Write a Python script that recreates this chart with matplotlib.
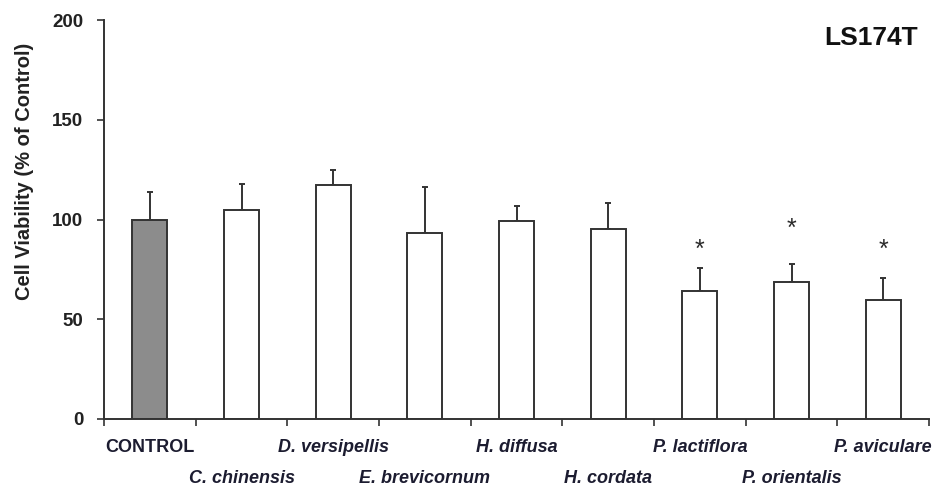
import numpy as np
import matplotlib
matplotlib.use("Agg")
import matplotlib.pyplot as plt

plt.rcParams['font.family'] = ['Liberation Sans', 'DejaVu Sans']

# data
names = ['CONTROL', 'C. chinensis', 'D. versipellis', 'E. brevicornum', 'H. diffusa',
         'H. cordata', 'P. lactiflora', 'P. orientalis', 'P. aviculare']
viability = [100, 104.7, 117.2, 93.3, 99.0, 95.0, 64.3, 68.6, 59.8]
sd = [14.0, 13.0, 7.6, 23.0, 7.8, 13.3, 11.3, 9.2, 11.0]
star_at = {6: 85, 7: 95.5, 8: 85}

edge = '#333333'
label_col = '#1c1c30'

fig = plt.figure(figsize=(9.51, 4.88), dpi=100)
ax = fig.add_axes([0.1094, 0.1414, 0.8675, 0.8176])

x = np.arange(len(names))
colors = ['#8c8c8c'] + ['white'] * (len(names) - 1)
ax.bar(x, viability, width=0.38, color=colors, edgecolor=edge, linewidth=1.4, zorder=2)
ax.errorbar(x, viability, yerr=[np.zeros(len(sd)), sd], fmt='none', ecolor=edge,
            elinewidth=1.4, capsize=2, capthick=1.4, zorder=1)

for i, h in star_at.items():
    ax.text(i, h, '*', ha='center', va='center', fontsize=18, color='#2a2a2a')

ax.set_xlim(-0.5, len(names) - 0.5)
ax.set_ylim(0, 200)
ax.set_yticks([0, 50, 100, 150, 200])
ax.tick_params(axis='y', direction='out', length=5, width=1.2, color=edge,
               labelsize=13.5, pad=10)
for t in ax.get_yticklabels():
    t.set_fontweight('bold')
    t.set_color('#222222')

# category boundaries as ticks, names placed in two staggered rows
ax.set_xticks(np.arange(len(names) + 1) - 0.5)
ax.set_xticklabels([])
ax.tick_params(axis='x', direction='out', length=5, width=1.2, color=edge)
for i, n in enumerate(names):
    dy = -29 if i % 2 == 0 else -60
    style = 'normal' if n == 'CONTROL' else 'italic'
    ax.annotate(n, xy=(i, 0), xycoords=('data', 'axes fraction'),
                xytext=(0, dy), textcoords='offset pixels', ha='center', va='center',
                fontsize=13, fontweight='bold', fontstyle=style, color=label_col,
                annotation_clip=False)

ax.set_ylabel('Cell Viability (% of Control)', fontsize=14.5, fontweight='bold',
              color='#222222')
ax.yaxis.set_label_coords(-0.085, 0.62)
ax.text(0.93, 0.955, 'LS174T', transform=ax.transAxes, ha='center', va='center',
        fontsize=19, fontweight='bold', color='#111111')

for s in ['top', 'right']:
    ax.spines[s].set_visible(False)
for s in ['left', 'bottom']:
    ax.spines[s].set_color(edge)
    ax.spines[s].set_linewidth(1.4)

fig.savefig('out.png', dpi=100)
